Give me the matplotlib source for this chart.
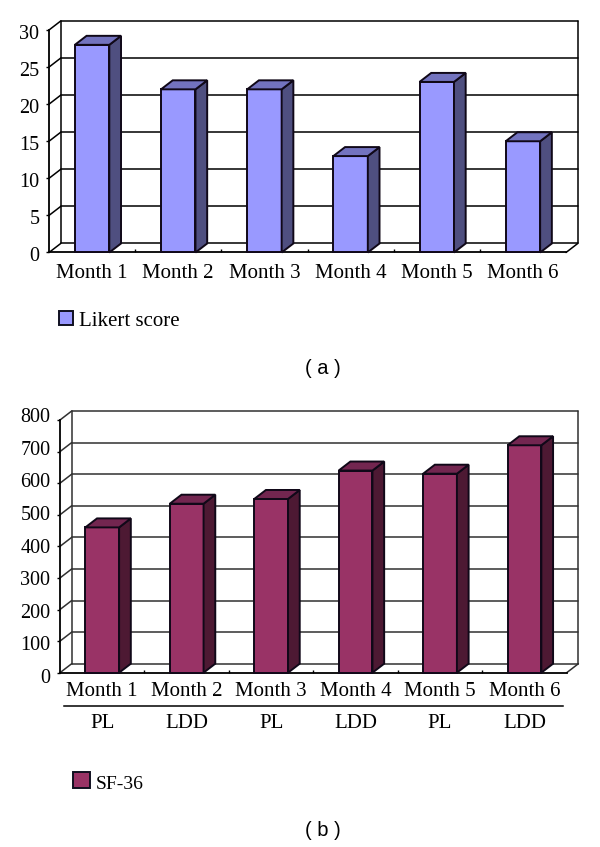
"""Two pseudo-3D bar panels: Likert score and SF-36 by month."""

import matplotlib

matplotlib.use("Agg")
import matplotlib.pyplot as plt
from matplotlib.lines import Line2D
from matplotlib.patches import Polygon, Rectangle
from matplotlib.transforms import Affine2D

plt.rcParams["font.family"] = ["Liberation Serif", "DejaVu Serif"]

months = ["Month 1", "Month 2", "Month 3", "Month 4", "Month 5", "Month 6"]
treatments = ["PL", "LDD", "PL", "LDD", "PL", "LDD"]

likert_values = [28, 22, 22, 13, 23, 15]
likert_ticks = [0, 5, 10, 15, 20, 25, 30]

sf36_values = [460, 535, 550, 640, 630, 720]
sf36_ticks = [0, 100, 200, 300, 400, 500, 600, 700, 800]

WIDTH, HEIGHT = 600, 847
DEPTH_X, DEPTH_Y = 11.7, 9.0  # depth of the fake 3D box, pixels
BAR_WIDTH = 0.4
EDGE = "#100818"


def fx(px):
    return px / WIDTH


def fy(py):
    return 1 - py / HEIGHT


def panel(fig, box, values, ticks, colors, label_pad, shift, grid_color="black"):
    """Draw one 3D-looking bar panel; box is left, right, top, bottom in pixels."""
    left, right, top, bottom = box
    ax = fig.add_axes([fx(left), fy(bottom), (right - left) / WIDTH, (bottom - top) / HEIGHT])
    ax.set_xlim(0, len(values))
    ax.set_ylim(ticks[0], ticks[-1])
    ax.patch.set_visible(False)

    dx = DEPTH_X * len(values) / (right - left)
    dy = DEPTH_Y * ticks[-1] / (bottom - top)
    n = len(values)
    line = dict(color=grid_color, lw=1.1, clip_on=False, zorder=1, solid_capstyle="round")

    # back wall, side wall and floor
    for t in ticks:
        ax.plot([dx, n + dx], [t + dy, t + dy], **line)
        ax.plot([0, dx], [t, t + dy], **line)
    ax.plot([dx, dx], [dy, ticks[-1] + dy], **line)
    ax.plot([n + dx, n + dx], [dy, ticks[-1] + dy], **line)
    ax.plot([n, n + dx], [0, dy], **line)

    # bars
    front, side, roof = colors
    xs = [i + 0.5 for i in range(n)]
    ax.bar(xs, values, BAR_WIDTH, color=front, edgecolor=EDGE, lw=1.4, clip_on=False, zorder=3)
    for x, v in zip(xs, values):
        x0, x1 = x - BAR_WIDTH / 2, x + BAR_WIDTH / 2
        ax.add_patch(Polygon([(x1, 0), (x1 + dx, dy), (x1 + dx, v + dy), (x1, v)],
                             fc=side, ec=EDGE, lw=1.4, clip_on=False, zorder=3))
        ax.add_patch(Polygon([(x0, v), (x0 + dx, v + dy), (x1 + dx, v + dy), (x1, v)],
                             fc=roof, ec=EDGE, lw=1.4, clip_on=False, zorder=3))

    for name in ("top", "right"):
        ax.spines[name].set_visible(False)
    for name in ("left", "bottom"):
        ax.spines[name].set_linewidth(1.3)

    ax.set_yticks(ticks)
    ax.tick_params(axis="y", length=2, width=1, pad=5, labelsize=14.5)
    ax.set_xticks(xs, months)
    ax.tick_params(axis="x", length=0, pad=label_pad, labelsize=15)
    ax.set_xticks(range(1, n), minor=True)
    ax.tick_params(axis="x", which="minor", direction="in", length=2, width=1)

    # labels do not sit exactly on their ticks in the original
    for t, label in zip(ticks, ax.get_yticklabels()):
        off = shift[0] + (shift[1] - shift[0]) * t / ticks[-1]
        label.set_transform(label.get_transform() + Affine2D().translate(0, -off))
    return ax


def legend_box(fig, x0, x1, y0, y1, color, text, size, text_dy):
    fig.add_artist(Rectangle((fx(x0), fy(y1)), (x1 - x0) / WIDTH, (y1 - y0) / HEIGHT,
                             transform=fig.transFigure, fc=color, ec="#101020", lw=1.4))
    fig.text(fx(x1 + 6), fy((y0 + y1) / 2 + text_dy), text, fontsize=size, va="center", ha="left")


fig = plt.figure(figsize=(WIDTH / 100, HEIGHT / 100), dpi=100, facecolor="white")

panel(fig, (49, 566, 30, 252.5), likert_values, likert_ticks,
      ("#9999FF", "#4F4F80", "#7373BF"), label_pad=8.5, shift=(1.7, 1.7))
legend_box(fig, 58.5, 73, 311, 325, "#9999FF", "Likert score", 15, 3)
fig.text(fx(323), fy(368), "( a )", fontsize=14.5, family="Liberation Sans", ha="center", va="center")

ax_b = panel(fig, (60, 566.7, 420, 672.7), sf36_values, sf36_ticks,
             ("#993366", "#4D1933", "#732650"), label_pad=7, shift=(3.3, -5),
             grid_color="#303030")
for i, name in enumerate(treatments):
    ax_b.annotate(name, (i + 0.5, 0), xycoords=ax_b.get_xaxis_transform(),
                  xytext=(0, -51), textcoords="offset pixels",
                  ha="center", va="center", fontsize=15)
fig.add_artist(Line2D([fx(64), fx(562.7)], [fy(706), fy(706)], color="black", lw=1.1,
                      transform=fig.transFigure))
legend_box(fig, 73, 89.5, 772, 788, "#993366", "SF-36", 14, 4)
fig.text(fx(323), fy(830), "( b )", fontsize=14.5, family="Liberation Sans", ha="center", va="center")

fig.savefig("out.png", dpi=100)
